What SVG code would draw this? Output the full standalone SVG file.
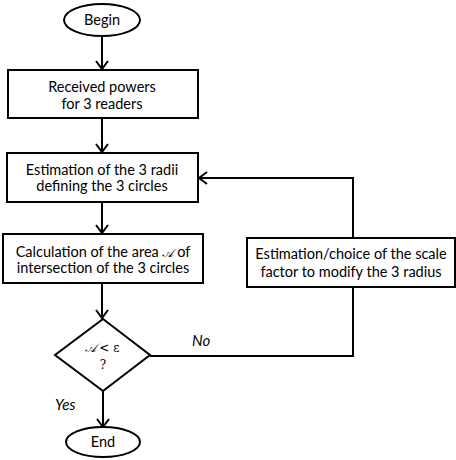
<svg xmlns="http://www.w3.org/2000/svg" width="456" height="460" viewBox="0 0 456 460">
<style>
.bg{fill:#fff}
.shape{fill:#fff;stroke:#000;stroke-width:2}
.conn{fill:none;stroke:#000;stroke-width:2}
text{font-family:Lato,"Liberation Sans",sans-serif;font-size:14.5px;fill:#000;text-anchor:middle}
.lbl{font-style:italic;font-size:15px;text-anchor:start}
.math{font-family:"DejaVu Serif","Liberation Serif",serif;font-size:12px}
</style>
<defs>
<marker id="arr" markerUnits="userSpaceOnUse" markerWidth="12" markerHeight="14" refX="9" refY="7" orient="auto">
<path d="M1,1 L9,7 L1,13" fill="none" stroke="#000" stroke-width="2"/>
</marker>
</defs>
<rect class="bg" x="0" y="0" width="456" height="460"/>
<g id="connectors">
<line class="conn" x1="102" y1="36" x2="102" y2="69" marker-end="url(#arr)"/>
<line class="conn" x1="102" y1="118" x2="102" y2="152" marker-end="url(#arr)"/>
<line class="conn" x1="102" y1="202" x2="102" y2="233" marker-end="url(#arr)"/>
<line class="conn" x1="102" y1="283" x2="102" y2="318" marker-end="url(#arr)"/>
<line class="conn" x1="103" y1="391" x2="103" y2="427" marker-end="url(#arr)"/>
<polyline class="conn" points="150,356 353,356 353,287"/>
<polyline class="conn" points="353,238 353,178 199,178" marker-end="url(#arr)"/>
<text class="lbl" x="192" y="346">No</text>
<text class="lbl" x="55" y="410">Yes</text>
</g>
<g id="begin">
<ellipse class="shape" cx="102" cy="20" rx="38" ry="16"/>
<text x="102" y="25">Begin</text>
</g>
<g id="received">
<rect class="shape" x="8" y="70" width="190" height="48"/>
<text x="102" y="92">Received powers</text>
<text x="102" y="109">for 3 readers</text>
</g>
<g id="estimation">
<rect class="shape" x="7" y="153" width="191" height="49"/>
<text x="102" y="175">Estimation of the 3 radii</text>
<text x="102" y="191">defining the 3 circles</text>
</g>
<g id="calculation">
<rect class="shape" x="3" y="234" width="200" height="49"/>
<text x="103" y="257">Calculation of the area <tspan class="math" font-style="italic" font-size="15px">𝒜</tspan> of</text>
<text x="103" y="273">intersection of the 3 circles</text>
</g>
<g id="decision">
<polygon class="shape" points="103,319 150,355 103,391 55,355"/>
<text class="math" x="102" y="352"><tspan font-style="italic">𝒜</tspan> &lt; ε</text>
<text class="math" x="103" y="369">?</text>
</g>
<g id="scale">
<rect class="shape" x="247" y="238" width="208" height="49"/>
<text x="351" y="259">Estimation/choice of the scale</text>
<text x="351" y="277">factor to modify the 3 radius</text>
</g>
<g id="end">
<ellipse class="shape" cx="103" cy="442" rx="37" ry="15"/>
<text x="103" y="447">End</text>
</g>
</svg>
